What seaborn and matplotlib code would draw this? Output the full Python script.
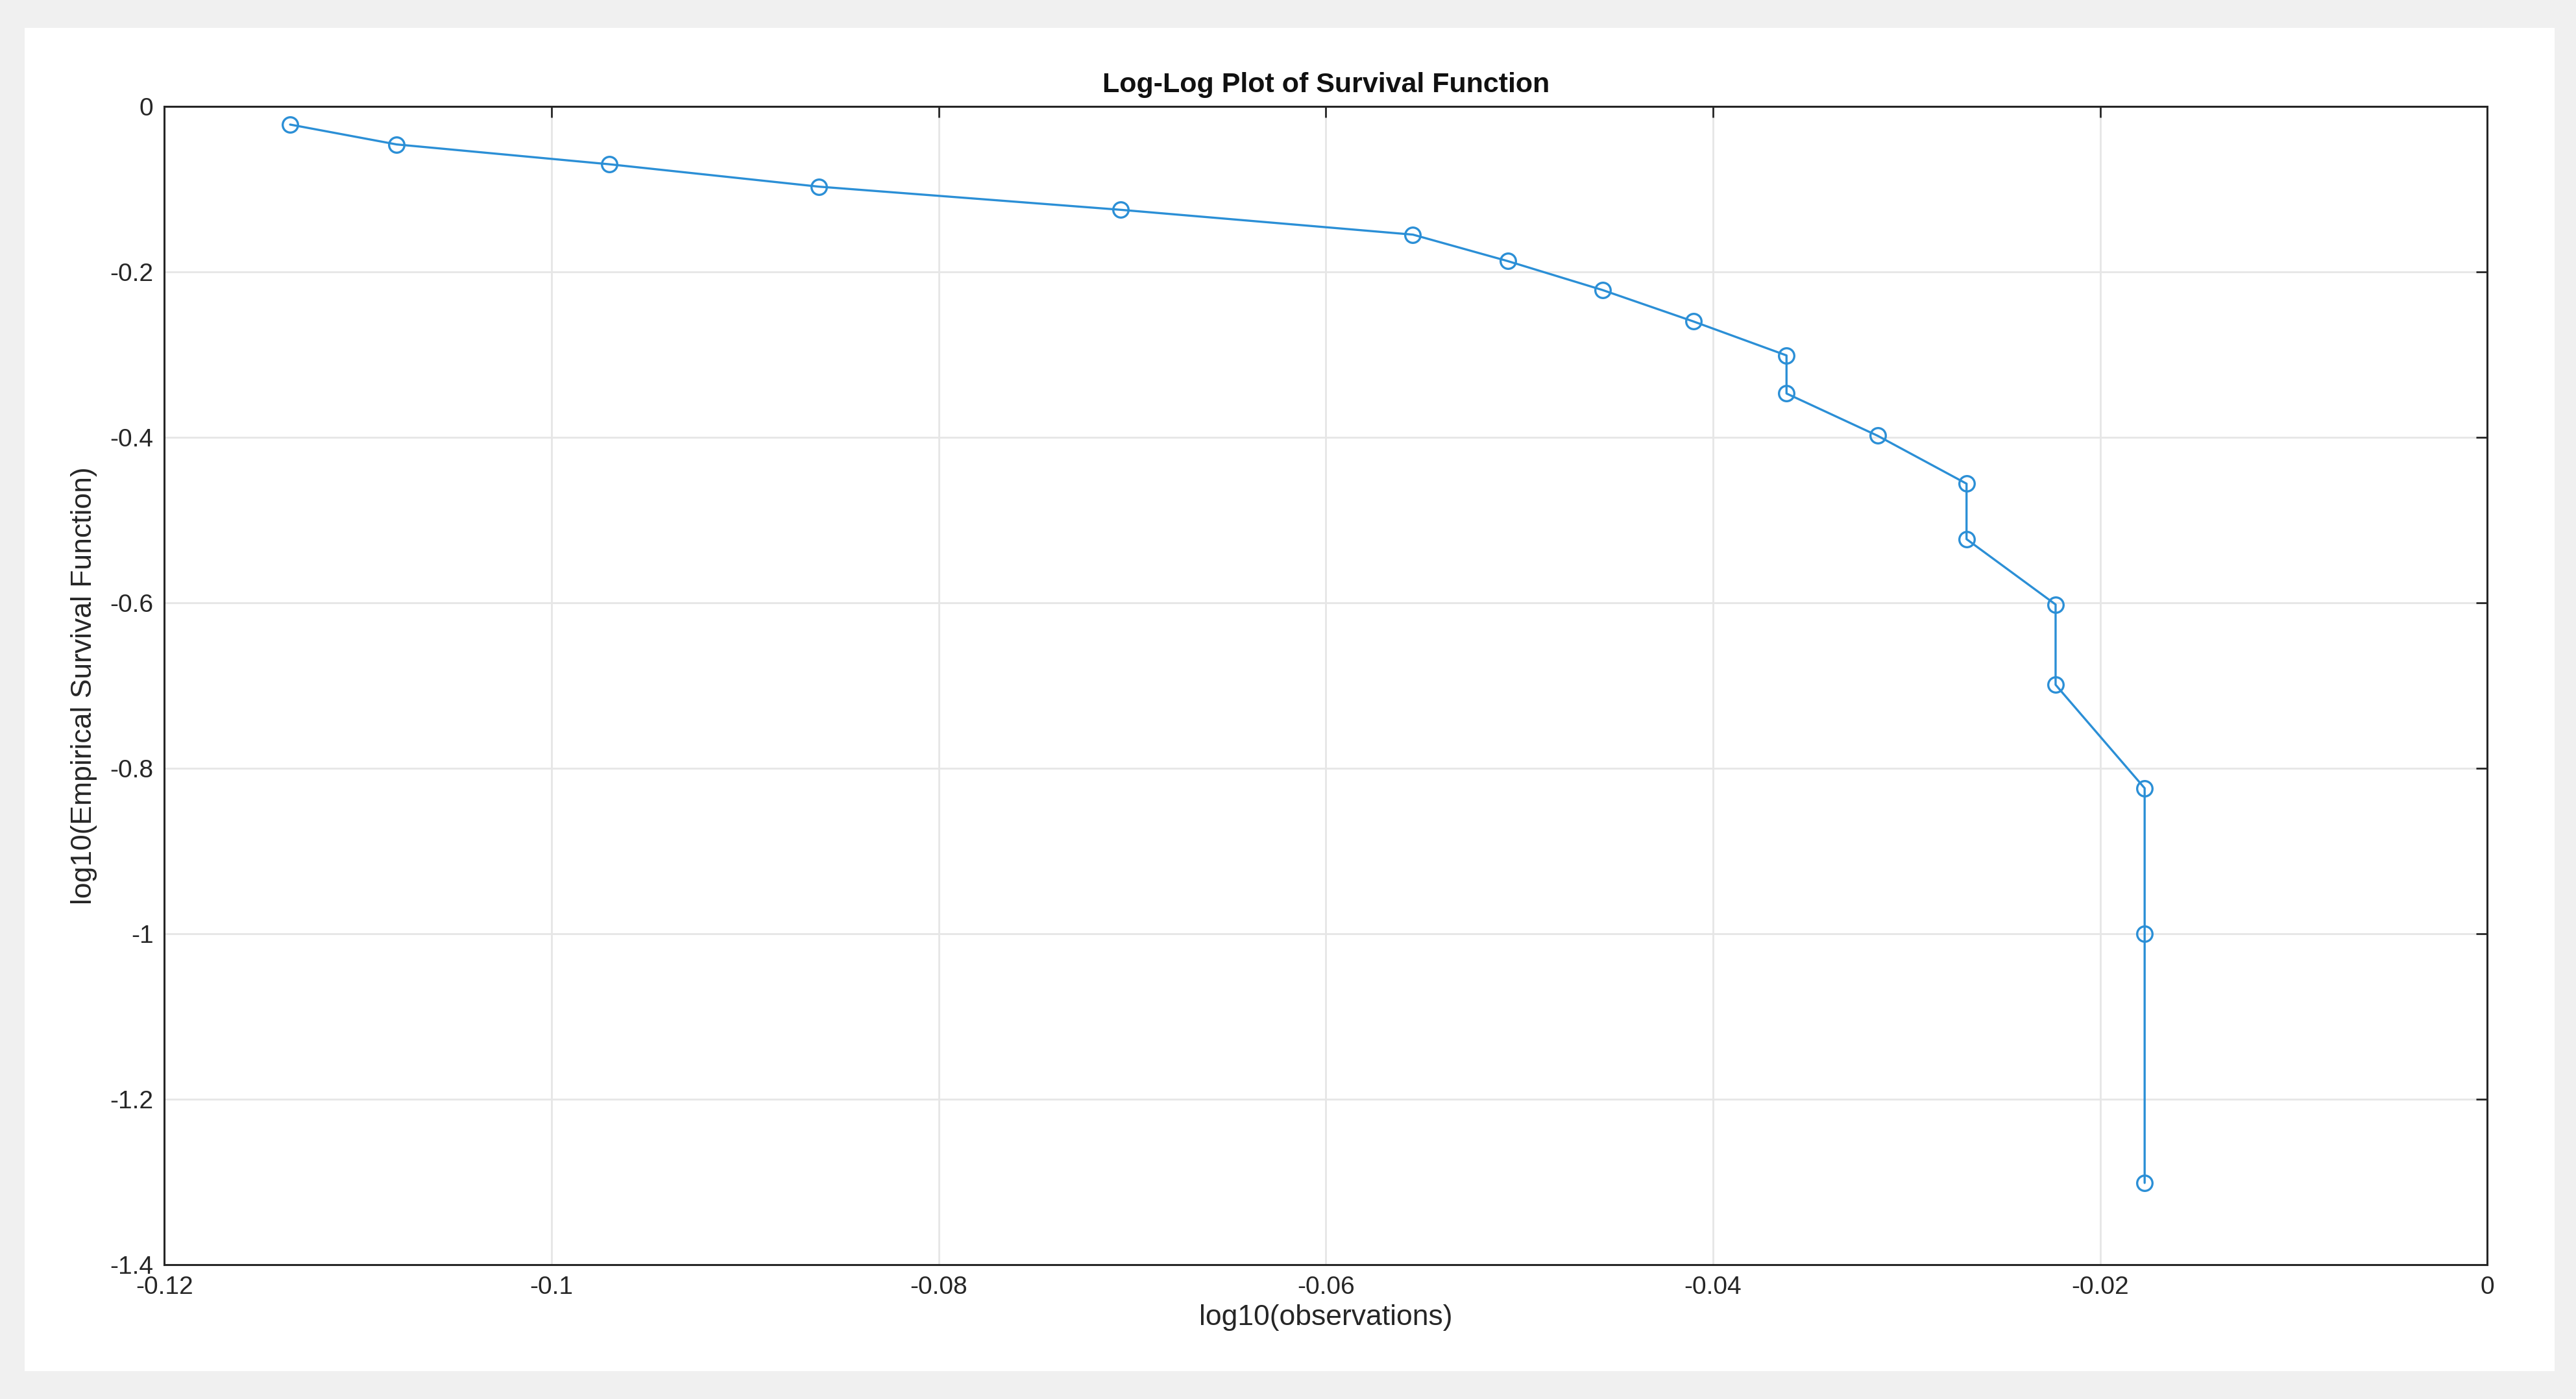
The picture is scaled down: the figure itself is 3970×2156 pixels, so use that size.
import numpy as np
import pandas as pd
import seaborn as sns
import matplotlib.pyplot as plt
from matplotlib.patches import Rectangle

# values
log_obs = [-0.1135, -0.1080, -0.0970, -0.0862, -0.0706, -0.0555, -0.0506, -0.0457,
           -0.0410, -0.0362, -0.0362, -0.0315, -0.0269, -0.0269, -0.0223, -0.0223,
           -0.0177, -0.0177, -0.0177]
log_surv = [-0.022, -0.046, -0.070, -0.097, -0.125, -0.155, -0.187, -0.222,
            -0.260, -0.301, -0.347, -0.398, -0.456, -0.523, -0.602, -0.699,
            -0.824, -1.000, -1.301]
xticks = [-0.12, -0.1, -0.08, -0.06, -0.04, -0.02, 0]
yticks = [-1.4, -1.2, -1, -0.8, -0.6, -0.4, -0.2, 0]

df = pd.DataFrame({"x": log_obs, "y": log_surv})

sns.set_style("white")
plt.rcParams['font.family'] = ['Liberation Sans', 'DejaVu Sans']

fig = plt.figure(figsize=(39.7, 21.56), dpi=100)
fig.patch.set_facecolor("#f0f0f0")
# white panel like the MATLAB figure window
fig.patches.append(Rectangle((15 / 1568, 1 - 838 / 855), 1540 / 1568, 821 / 855,
                             transform=fig.transFigure, facecolor="white",
                             edgecolor="none", zorder=0))
ax = fig.add_axes([100 / 1568, 1 - 773 / 855, 1414 / 1568, 708 / 855])
ax.set_zorder(1)

color = "#2b8fd6"
sns.lineplot(data=df, x="x", y="y", sort=False, estimator=None, ax=ax,
             color=color, linewidth=2.4, marker="o", markersize=17,
             markerfacecolor="none", markeredgecolor=color, markeredgewidth=2.4)

ax.set_xlim(-0.12, 0)
ax.set_ylim(-1.4, 0)
ax.set_xticks(xticks)
ax.set_xticklabels([f"{t:g}" for t in xticks])
ax.set_yticks(yticks)
ax.set_yticklabels([f"{t:g}" for t in yticks])
ax.grid(True, color="#e6e6e6", linewidth=2)
ax.tick_params(direction="in", length=12, width=2, labelsize=28, colors="#262626",
               top=True, right=True, pad=12)
for s in ax.spines.values():
    s.set_color("#262626")
    s.set_linewidth(2.2)
ax.set_xlabel("log10(observations)", fontsize=32, color="#262626", labelpad=6)
ax.set_ylabel("log10(Empirical Survival Function)", fontsize=32, color="#262626", labelpad=14)
ax.set_title("Log-Log Plot of Survival Function", fontsize=31, fontweight="bold",
             color="#111111", pad=16)

fig.savefig("out.png", dpi=100, facecolor=fig.get_facecolor())
